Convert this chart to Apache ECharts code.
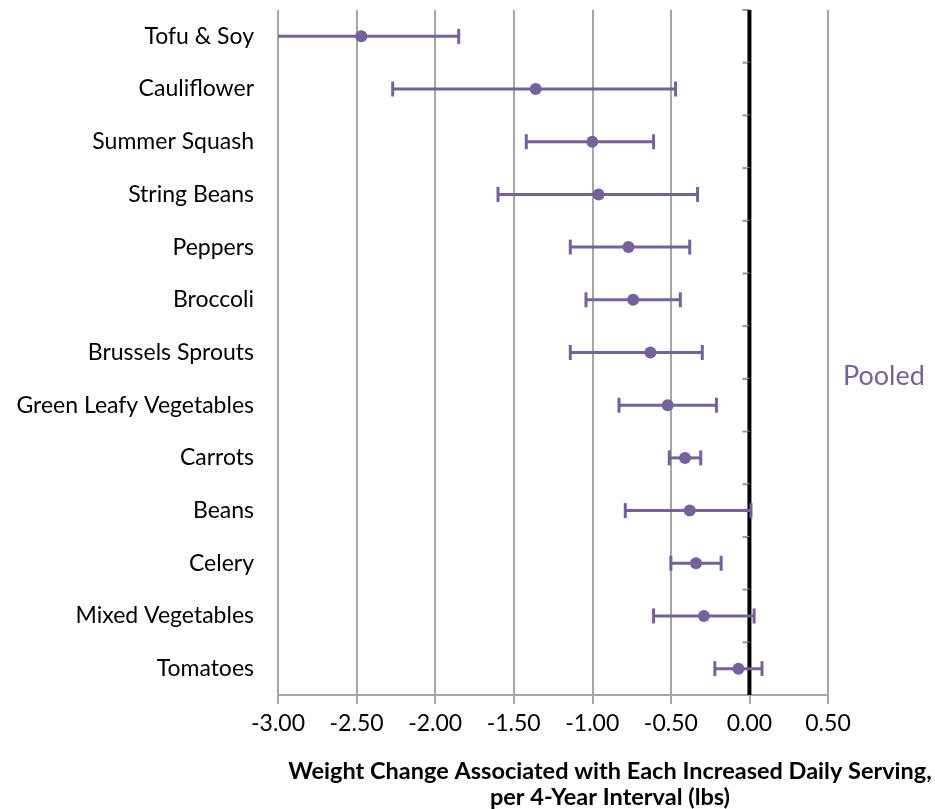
<!DOCTYPE html>
<html><head><meta charset="utf-8">
<script src="https://cdn.jsdelivr.net/npm/echarts@6/dist/echarts.min.js"></script>
<style>html,body{margin:0;padding:0;background:#fff}#c{width:935px;height:809px}</style>
</head><body><div id="c"></div>
<script>
const categories = ["Tofu & Soy","Cauliflower","Summer Squash","String Beans","Peppers","Broccoli","Brussels Sprouts","Green Leafy Vegetables","Carrots","Beans","Celery","Mixed Vegetables","Tomatoes"];
const means = [-2.47,-1.36,-1.00,-0.96,-0.77,-0.74,-0.63,-0.52,-0.41,-0.38,-0.34,-0.29,-0.07];
const lower = [-3.05,-2.27,-1.42,-1.60,-1.14,-1.04,-1.14,-0.83,-0.51,-0.79,-0.50,-0.61,-0.22];
const upper = [-1.85,-0.47,-0.61,-0.33,-0.38,-0.44,-0.30,-0.21,-0.31,0.01,-0.18,0.03,0.08];
const xTicks = {min:-3, max:0.5, step:0.5};
const xTitle = ["Weight Change Associated with Each Increased Daily Serving,","per 4-Year Interval (lbs)"];
const seriesLabel = "Pooled";
const refValue = 0;

const PURPLE = "#75619b";
const GRID = "#a6a6a6";
const FONT = "Lato";
const chart = echarts.init(document.getElementById('c'));
const errData = categories.map((c,i)=>[i, lower[i], upper[i]]);
const zeroData = categories.map((c,i)=>[refValue, i]);
chart.setOption({
  animation:false,
  grid:{left:278,right:107,top:10,bottom:114,containLabel:false},
  xAxis:{type:'value',min:xTicks.min,max:xTicks.max,interval:xTicks.step,
    axisLine:{show:true,onZero:false,lineStyle:{color:GRID,width:2}},
    axisTick:{show:true,length:9,lineStyle:{color:GRID,width:2}},
    axisLabel:{formatter:v=>v.toFixed(2),fontFamily:FONT,fontSize:23,color:'#000',margin:17},
    splitLine:{show:true,lineStyle:{color:GRID,width:2}}},
  yAxis:{type:'category',data:categories,inverse:true,
     axisLine:{show:false},axisTick:{show:false},splitLine:{show:false},
     axisLabel:{fontFamily:FONT,fontSize:23,color:'#000',margin:24}},
  graphic:[
    {type:'text',left:843,top:363,style:{text:seriesLabel,fontFamily:FONT,fontSize:27,fill:PURPLE}},
    {type:'text',x:610,y:758,style:{text:xTitle.join('\n'),fontFamily:FONT,fontSize:23.5,fontWeight:'bold',fill:'#000',align:'center',lineHeight:26}}
  ],
  series:[
    {type:'custom',clip:false,data:zeroData,z:3,
     renderItem:(params,api)=>{
       const c=api.coord([api.value(0),api.value(1)]);
       const band=api.size([0,1])[1];
       const y0=c[1]-band/2, y1=c[1]+band/2;
       return {type:'group',children:[
         {type:'line',shape:{x1:c[0]-7,y1:y0,x2:c[0],y2:y0},style:{stroke:'#9a9a9a',lineWidth:2}},
         {type:'line',shape:{x1:c[0],y1:y0,x2:c[0],y2:y1},style:{stroke:'#000',lineWidth:4}}
       ]};
     },
     encode:{x:0,y:1}},
    {type:'custom',clip:true,data:errData,z:4,
     renderItem:(params,api)=>{
       const y=api.value(0);
       const p1=api.coord([api.value(1),y]);
       const p2=api.coord([api.value(2),y]);
       const h=7.5;
       const st={stroke:PURPLE,lineWidth:3};
       return {type:'group',children:[
         {type:'line',shape:{x1:p1[0],y1:p1[1],x2:p2[0],y2:p2[1]},style:st},
         {type:'line',shape:{x1:p1[0],y1:p1[1]-h,x2:p1[0],y2:p1[1]+h},style:st},
         {type:'line',shape:{x1:p2[0],y1:p2[1]-h,x2:p2[0],y2:p2[1]+h},style:st}
       ]};
     },
     encode:{x:[1,2],y:0}},
    {type:'scatter',symbol:'circle',symbolSize:12,itemStyle:{color:PURPLE,opacity:1},
     data:means.map((m,i)=>[m,categories[i]]),z:5}
  ]
});
</script></body></html>
